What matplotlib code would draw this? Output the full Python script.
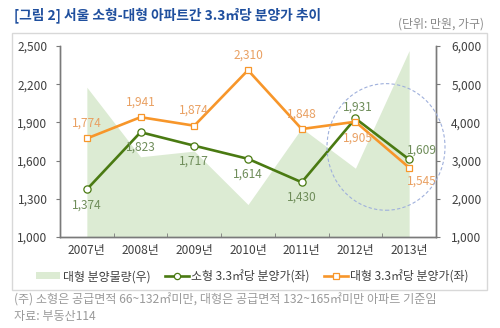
import matplotlib
matplotlib.use("Agg")
import matplotlib.pyplot as plt
from matplotlib.patches import Rectangle, Ellipse
from matplotlib.ticker import FuncFormatter, FixedLocator
from matplotlib.lines import Line2D
from matplotlib.patches import Patch

plt.rcParams['font.family'] = ['Noto Sans CJK KR', 'DejaVu Sans']

years = ['2007년', '2008년', '2009년', '2010년', '2011년', '2012년', '2013년']
small_price = [1374, 1823, 1717, 1614, 1430, 1931, 1609]
large_price = [1774, 1941, 1874, 2310, 1848, 1905, 1545]
large_volume = [4920, 3100, 3250, 1850, 3850, 2800, 5880]
left_ticks = [1000, 1300, 1600, 1900, 2200, 2500]
right_ticks = [1000, 2000, 3000, 4000, 5000, 6000]

title = '[그림 2] 서울 소형-대형 아파트간 3.3㎡당 분양가 추이'
unit = '(단위: 만원, 가구)'
leg_labels = ['대형 분양물량(우)', '소형 3.3㎡당 분양가(좌)', '대형 3.3㎡당 분양가(좌)']
note1 = '(주) 소형은 공급면적 66~132㎡미만, 대형은 공급면적 132~165㎡미만 아파트 기준임'
note2 = '자료: 부동산114'

GREEN = '#4a7a12'
ORANGE = '#f7962a'
AREA = '#dcebd3'
GREEN_LBL = '#6f8d5a'
ORANGE_LBL = '#e9a062'
AX = '#7a7a7a'
TXT = '#404040'
FS = 8.6

fig = plt.figure(figsize=(5.0, 3.28), dpi=100)
fig.patch.set_facecolor('white')

# outer frame
fig.patches.append(Rectangle((0.024, 0.116), 0.95, 0.783, transform=fig.transFigure,
                             fill=False, edgecolor='#d8d8d8', lw=1.0))

ax1 = fig.add_axes([0.12, 0.2774, 0.752, 0.5824])
ax2 = ax1.twinx()
x = list(range(len(years)))

ax2.fill_between(x, 1000, large_volume, color=AREA, lw=0)
ax2.set_ylim(1000, 6000)
ax2.yaxis.set_major_locator(FixedLocator(right_ticks))
ax2.yaxis.set_major_formatter(FuncFormatter(lambda v, p: f'{int(v):,}'))

ax1.set_zorder(ax2.get_zorder() + 1)
ax1.patch.set_visible(False)

ax1.plot(x, small_price, color=GREEN, lw=1.9, marker='o', ms=5.2,
         mfc='white', mec=GREEN, mew=0.9, zorder=3)
ax1.plot(x, large_price, color=ORANGE, lw=1.9, marker='s', ms=5.0,
         mfc='white', mec=ORANGE, mew=0.9, zorder=3)

ax1.set_ylim(1000, 2500)
ax1.set_xlim(-0.5, 6.5)
ax1.yaxis.set_major_locator(FixedLocator(left_ticks))
ax1.yaxis.set_major_formatter(FuncFormatter(lambda v, p: f'{int(v):,}'))
ax1.set_xticks(x)
ax1.set_xticklabels(years)
ax1.set_xticks([i + 0.5 for i in range(6)], minor=True)

# labels
small_off = [(0, -11), (0, -11), (0, -11), (0, -11), (0, -11), (2, 8), (9, 7)]
large_off = [(0, 11), (0, 11), (0, 11), (0, 11), (0, 11), (2, -12), (9, -10)]
for i, v in enumerate(small_price):
    dx, dy = small_off[i]
    ax1.annotate(f'{v:,}', (i, v), xytext=(dx, dy), textcoords='offset points',
                 ha='center', va='center', fontsize=FS, color=GREEN_LBL, zorder=4)
for i, v in enumerate(large_price):
    dx, dy = large_off[i]
    ax1.annotate(f'{v:,}', (i, v), xytext=(dx, dy), textcoords='offset points',
                 ha='center', va='center', fontsize=FS, color=ORANGE_LBL, zorder=4)

for a in (ax1, ax2):
    a.spines['top'].set_visible(False)
    for s in ('left', 'right', 'bottom'):
        a.spines[s].set_color(AX)
        a.spines[s].set_linewidth(1.0)

ax1.tick_params(axis='y', direction='out', length=3, color=AX, labelsize=FS,
                labelcolor=TXT, pad=6)
ax2.tick_params(axis='y', direction='out', length=3, color=AX, labelsize=FS,
                labelcolor=TXT, pad=8)
ax1.tick_params(axis='x', which='major', length=0, labelsize=FS, labelcolor=TXT, pad=5)
ax1.tick_params(axis='x', which='minor', direction='in', length=3, color=AX)

# dashed circle highlight
fig.patches.append(Ellipse((0.772, 0.552), 0.236, 0.386, transform=fig.transFigure,
                           fill=False, edgecolor='#9fb0dc', lw=0.8, ls=(0, (3, 2))))

# title and unit
fig.text(0.028, 0.955, title, fontsize=9.9, fontweight='bold', color='#1f4f9e',
         ha='left', va='center')
fig.text(0.968, 0.928, unit, fontsize=8.6, color='#8a8a8a', ha='right', va='center')

# legend
handles = [
    Patch(facecolor=AREA, edgecolor='none'),
    Line2D([], [], color=GREEN, lw=1.9, marker='o', ms=4.5, mfc='white', mec=GREEN, mew=0.9),
    Line2D([], [], color=ORANGE, lw=1.9, marker='s', ms=4.2, mfc='white', mec=ORANGE, mew=0.9),
]
fig.legend(handles, leg_labels, loc='center', bbox_to_anchor=(0.505, 0.157), ncol=3,
           frameon=False, fontsize=8.6, handlelength=2.0, handleheight=0.5,
           handletextpad=0.2, columnspacing=1.2, labelcolor=TXT)

fig.text(0.028, 0.085, note1, fontsize=8.7, color='#9a9a9a', ha='left', va='center')
fig.text(0.028, 0.035, note2, fontsize=8.7, color='#9a9a9a', ha='left', va='center')

fig.savefig('out.png', dpi=100)
